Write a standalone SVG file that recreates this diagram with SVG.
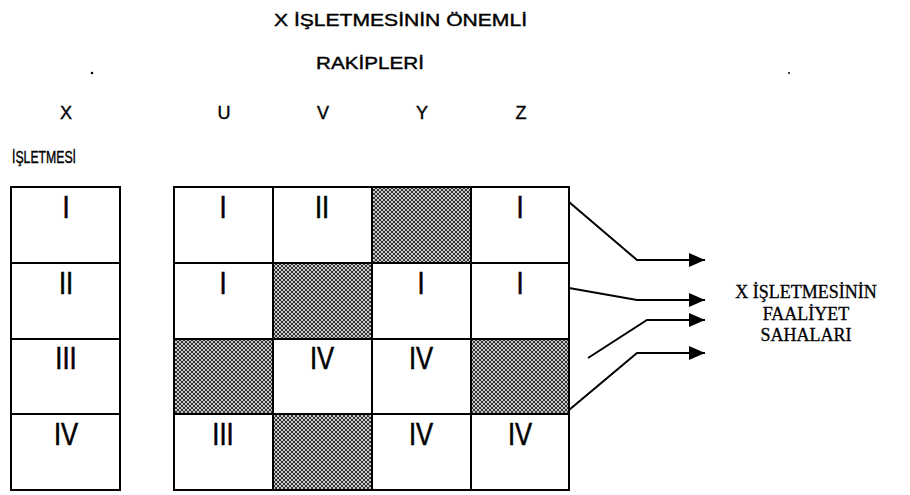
<svg xmlns="http://www.w3.org/2000/svg" width="910" height="495" viewBox="0 0 910 495">
<defs>
<pattern id="hatch" width="4" height="4" patternUnits="userSpaceOnUse">
<rect width="4" height="4" fill="#c8c8c8"/>
<path d="M0,0 L4,4 M4,0 L0,4" stroke="#333" stroke-width="1"/>
</pattern>
<marker id="ah" markerWidth="16" markerHeight="14" refX="16" refY="7" orient="auto" markerUnits="userSpaceOnUse">
<path d="M0,0 L16,7 L0,14 z" fill="#000"/>
</marker>
</defs>
<style>
.cell{fill:#fff;stroke:#000;stroke-width:2}
.sh{fill:url(#hatch);stroke:#000;stroke-width:2}
.num{font-family:"Liberation Sans",Arial,sans-serif;font-size:32px;text-anchor:middle;fill:#000;stroke:#000;stroke-width:0.6}
.hd{font-family:"Liberation Sans",Arial,sans-serif;font-size:17px;fill:#000;stroke:#000;stroke-width:0.4}
.col{font-family:"Liberation Sans",Arial,sans-serif;font-size:18px;text-anchor:middle;fill:#000;stroke:#000;stroke-width:0.4}
.rt{font-family:"Liberation Serif","Times New Roman",serif;font-size:18px;text-anchor:middle;fill:#000;stroke:#000;stroke-width:0.3}
.conn{fill:none;stroke:#000;stroke-width:2;marker-end:url(#ah)}
</style>
<rect width="910" height="495" fill="#fff"/>

<g id="headers">
<text class="hd" x="274" y="26" textLength="253" lengthAdjust="spacingAndGlyphs">X İŞLETMESİNİN ÖNEMLİ</text>
<text class="hd" x="316" y="69" textLength="108" lengthAdjust="spacingAndGlyphs">RAKİPLERİ</text>
<text class="col" x="66" y="119">X</text>
<text class="col" x="224" y="119">U</text>
<text class="col" x="323" y="119">V</text>
<text class="col" x="422" y="119">Y</text>
<text class="col" x="521" y="119">Z</text>
<text class="hd" x="12" y="163" textLength="64" lengthAdjust="spacingAndGlyphs" font-size="15">İŞLETMESİ</text>
<circle cx="92" cy="73" r="1.3" fill="#000"/>
<circle cx="789" cy="73" r="1" fill="#000"/>
</g>

<g id="x-column">
<g id="x1"><rect class="cell" x="11" y="187" width="109" height="76"/><text class="num" transform="translate(66,218) scale(0.8,1)">I</text></g>
<g id="x2"><rect class="cell" x="11" y="263" width="109" height="76"/><text class="num" transform="translate(66,294) scale(0.8,1)">II</text></g>
<g id="x3"><rect class="cell" x="11" y="339" width="109" height="75"/><text class="num" transform="translate(66,369) scale(0.8,1)">III</text></g>
<g id="x4"><rect class="cell" x="11" y="414" width="109" height="76"/><text class="num" transform="translate(66,445) scale(0.8,1)">IV</text></g>
</g>

<g id="grid">
<g id="u1"><rect class="cell" x="174" y="187" width="99" height="76"/><text class="num" transform="translate(223,218) scale(0.8,1)">I</text></g>
<g id="v1"><rect class="cell" x="273" y="187" width="99" height="76"/><text class="num" transform="translate(322,218) scale(0.8,1)">II</text></g>
<g id="y1"><rect class="sh" x="372" y="187" width="99" height="76"/></g>
<g id="z1"><rect class="cell" x="471" y="187" width="98" height="76"/><text class="num" transform="translate(520,218) scale(0.8,1)">I</text></g>

<g id="u2"><rect class="cell" x="174" y="263" width="99" height="76"/><text class="num" transform="translate(223,294) scale(0.8,1)">I</text></g>
<g id="v2"><rect class="sh" x="273" y="263" width="99" height="76"/></g>
<g id="y2"><rect class="cell" x="372" y="263" width="99" height="76"/><text class="num" transform="translate(421,294) scale(0.8,1)">I</text></g>
<g id="z2"><rect class="cell" x="471" y="263" width="98" height="76"/><text class="num" transform="translate(520,294) scale(0.8,1)">I</text></g>

<g id="u3"><rect class="sh" x="174" y="339" width="99" height="75"/></g>
<g id="v3"><rect class="cell" x="273" y="339" width="99" height="75"/><text class="num" transform="translate(322,369) scale(0.8,1)">IV</text></g>
<g id="y3"><rect class="cell" x="372" y="339" width="99" height="75"/><text class="num" transform="translate(421,369) scale(0.8,1)">IV</text></g>
<g id="z3"><rect class="sh" x="471" y="339" width="98" height="75"/></g>

<g id="u4"><rect class="cell" x="174" y="414" width="99" height="76"/><text class="num" transform="translate(223,445) scale(0.8,1)">III</text></g>
<g id="v4"><rect class="sh" x="273" y="414" width="99" height="76"/></g>
<g id="y4"><rect class="cell" x="372" y="414" width="99" height="76"/><text class="num" transform="translate(421,445) scale(0.8,1)">IV</text></g>
<g id="z4"><rect class="cell" x="471" y="414" width="98" height="76"/><text class="num" transform="translate(520,445) scale(0.8,1)">IV</text></g>
</g>

<g id="connectors">
<polyline class="conn" points="569,202 637,260 705,260"/>
<polyline class="conn" points="569,288 637,300 705,300"/>
<polyline class="conn" points="588,358 647,320 705,320"/>
<polyline class="conn" points="569,410 637,353 705,353"/>
</g>

<g id="faaliyet">
<text class="rt" x="806" y="298">X İŞLETMESİNİN</text>
<text class="rt" x="806" y="320">FAALİYET</text>
<text class="rt" x="806" y="341">SAHALARI</text>
</g>
</svg>
